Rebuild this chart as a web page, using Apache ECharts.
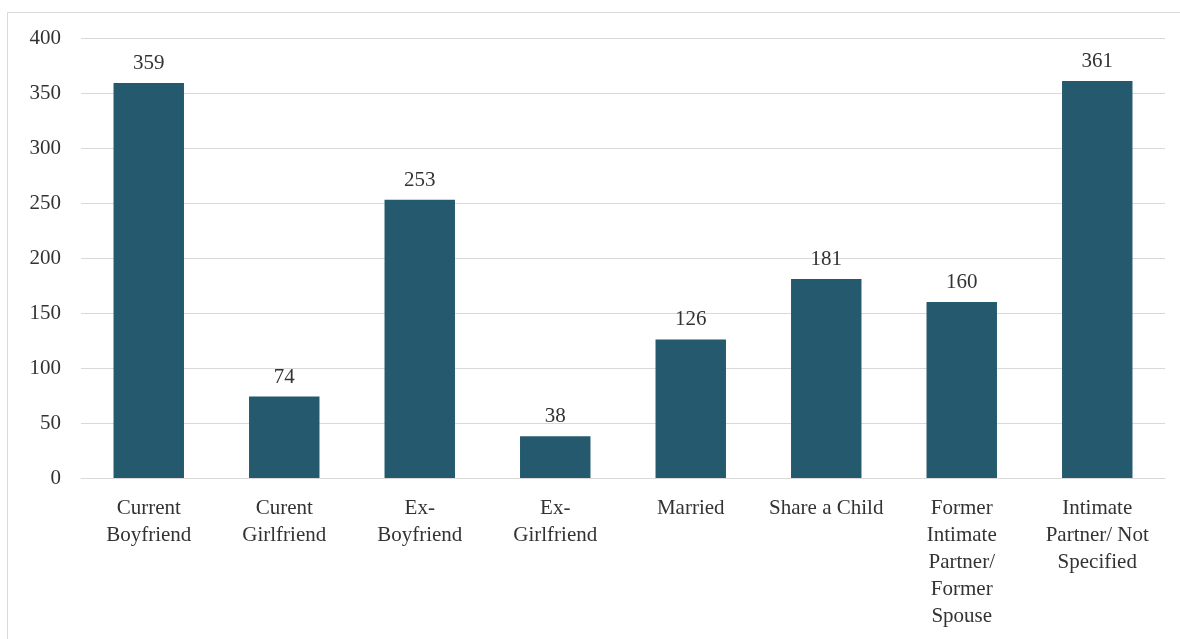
<!DOCTYPE html>
<html><head><meta charset="utf-8">
<script src="https://cdn.jsdelivr.net/npm/echarts@6/dist/echarts.min.js"></script>
<style>html,body{margin:0;padding:0;background:#fff}#c{width:1180px;height:639px}</style>
</head><body><div id="c"></div>
<script>
const categories = ["Current\nBoyfriend","Curent\nGirlfriend","Ex-\nBoyfriend","Ex-\nGirlfriend","Married","Share a Child","Former\nIntimate\nPartner/\nFormer\nSpouse","Intimate\nPartner/ Not\nSpecified"];
const values = [359,74,253,38,126,181,160,361];
const yTicks = {min:0,max:400,interval:50};
const font = "Liberation Serif";
const chart = echarts.init(document.getElementById('c'));
chart.setOption({
  animation:false,
  textStyle:{fontFamily:font},
  graphic:[{type:'rect',shape:{x:7.5,y:12.5,width:1300,height:800},style:{fill:'none',stroke:'#d9d9d9',lineWidth:1}}],
  grid:{left:81,right:15,top:38,bottom:161,containLabel:false},
  xAxis:{type:'category',data:categories,
    axisLine:{lineStyle:{color:'#d9d9d9'}},axisTick:{show:false},
    axisLabel:{interval:0,color:'#333',fontFamily:font,fontSize:21,lineHeight:27,margin:17}},
  yAxis:{type:'value',min:yTicks.min,max:yTicks.max,interval:yTicks.interval,
    axisLine:{show:false},axisTick:{show:false},
    splitLine:{lineStyle:{color:'#d9d9d9'}},
    axisLabel:{color:'#333',fontFamily:font,fontSize:21,margin:20}},
  series:[{type:'bar',data:values,barCategoryGap:'48%',
    itemStyle:{color:'#255A6E'},
    label:{show:true,position:'top',distance:9,color:'#333',fontFamily:font,fontSize:21}}]
});
</script></body></html>
